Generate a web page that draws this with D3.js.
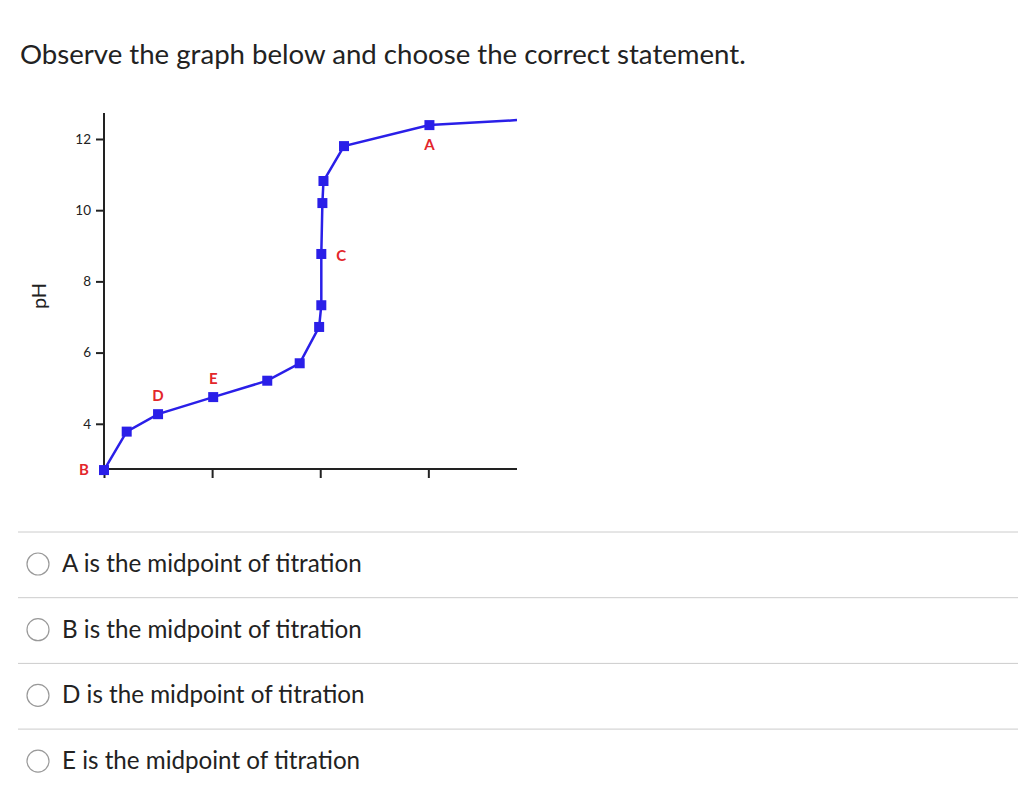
<!DOCTYPE html>
<html><head><meta charset="utf-8">
<script src="https://cdn.jsdelivr.net/npm/d3@7"></script>
<style>body{margin:0;background:#fff}</style></head>
<body><svg id="c" width="1024" height="808"></svg>
<script>
const volume = [0, 2.1, 5.0, 10.1, 15.1, 18.1, 19.9, 20.1, 20.1, 20.2, 20.3, 22.2, 30.1, 38.2];
const pH =     [2.7, 3.78, 4.27, 4.75, 5.21, 5.70, 6.72, 7.33, 8.77, 10.2, 10.82, 11.8, 12.39, 12.53];
const marked = [1,1,1,1,1,1,1,1,1,1,1,1,1,0];
const pointLabels = [{i:0,t:"B",dx:-20,dy:5},{i:2,t:"D",dx:0,dy:-13},{i:3,t:"E",dx:0,dy:-13},{i:8,t:"C",dx:20,dy:7},{i:12,t:"A",dx:0,dy:25}];
const yTicks = [4, 6, 8, 10, 12];
const xTicks = [0, 10, 20, 30];
const options = ["A is the midpoint of titration","B is the midpoint of titration","D is the midpoint of titration","E is the midpoint of titration"];

const svg = d3.select("#c");
const font = "Lato, 'Open Sans', sans-serif";
svg.append("text").attr("x",20).attr("y",64).attr("font-family",font).attr("font-size",27.6).attr("fill","#222")
  .text("Observe the graph below and choose the correct statement.");

const x = d3.scaleLinear().domain([0,38.2]).range([104,517]);
const y = d3.scaleLinear().domain([2.73,12.73]).range([469,113]);

const ya = svg.append("g").attr("transform","translate(104,0)")
  .call(d3.axisLeft(y).tickValues(yTicks).tickSize(8).tickPadding(5));
ya.select(".domain").attr("stroke","#222").attr("stroke-width",2).attr("d","M0,469V113");
ya.selectAll("line").attr("stroke","#222").attr("stroke-width",2);
ya.selectAll("text").attr("font-family",font).attr("font-size",13.5).attr("fill","#222");

const xa = svg.append("g").attr("transform","translate(0,469)")
  .call(d3.axisBottom(x).tickValues(xTicks).tickSize(9).tickFormat(""));
xa.select(".domain").attr("stroke","#222").attr("stroke-width",2).attr("d","M104,0H517");
xa.selectAll("line").attr("stroke","#222").attr("stroke-width",2);

svg.append("text").attr("transform","translate(46,296) rotate(-90)").attr("text-anchor","middle")
  .attr("font-family",font).attr("font-size",20).attr("fill","#222").text("pH");

const pts = volume.map((v,i)=>({v,p:pH[i],m:marked[i]}));
svg.append("path").datum(pts).attr("fill","none").attr("stroke","#2a1fe8").attr("stroke-width",2.5)
  .attr("d",d3.line().x(d=>x(d.v)).y(d=>y(d.p)));
svg.selectAll("rect.m").data(pts.filter(d=>d.m)).enter().append("rect")
  .attr("x",d=>x(d.v)-5).attr("y",d=>y(d.p)-5).attr("width",10).attr("height",10).attr("fill","#2a1fe8");
pointLabels.forEach(l=>{
  svg.append("text").attr("x",x(volume[l.i])+l.dx).attr("y",y(pH[l.i])+l.dy).attr("text-anchor","middle")
    .attr("font-family",font).attr("font-weight","bold").attr("font-size",15).attr("fill","#e3262b").text(l.t);
});

options.forEach((t,i)=>{
  const top = 532 + i*65.7;
  svg.append("line").attr("x1",18).attr("x2",1018).attr("y1",top).attr("y2",top).attr("stroke","#ccc").attr("stroke-width",1);
  const cy = top + 32;
  svg.append("circle").attr("cx",38).attr("cy",cy).attr("r",11).attr("fill","#fff").attr("stroke","#999").attr("stroke-width",1.2);
  svg.append("text").attr("x",62).attr("y",cy+8).attr("font-family",font).attr("font-size",24.2).attr("fill","#222").text(t);
});
</script></body></html>
